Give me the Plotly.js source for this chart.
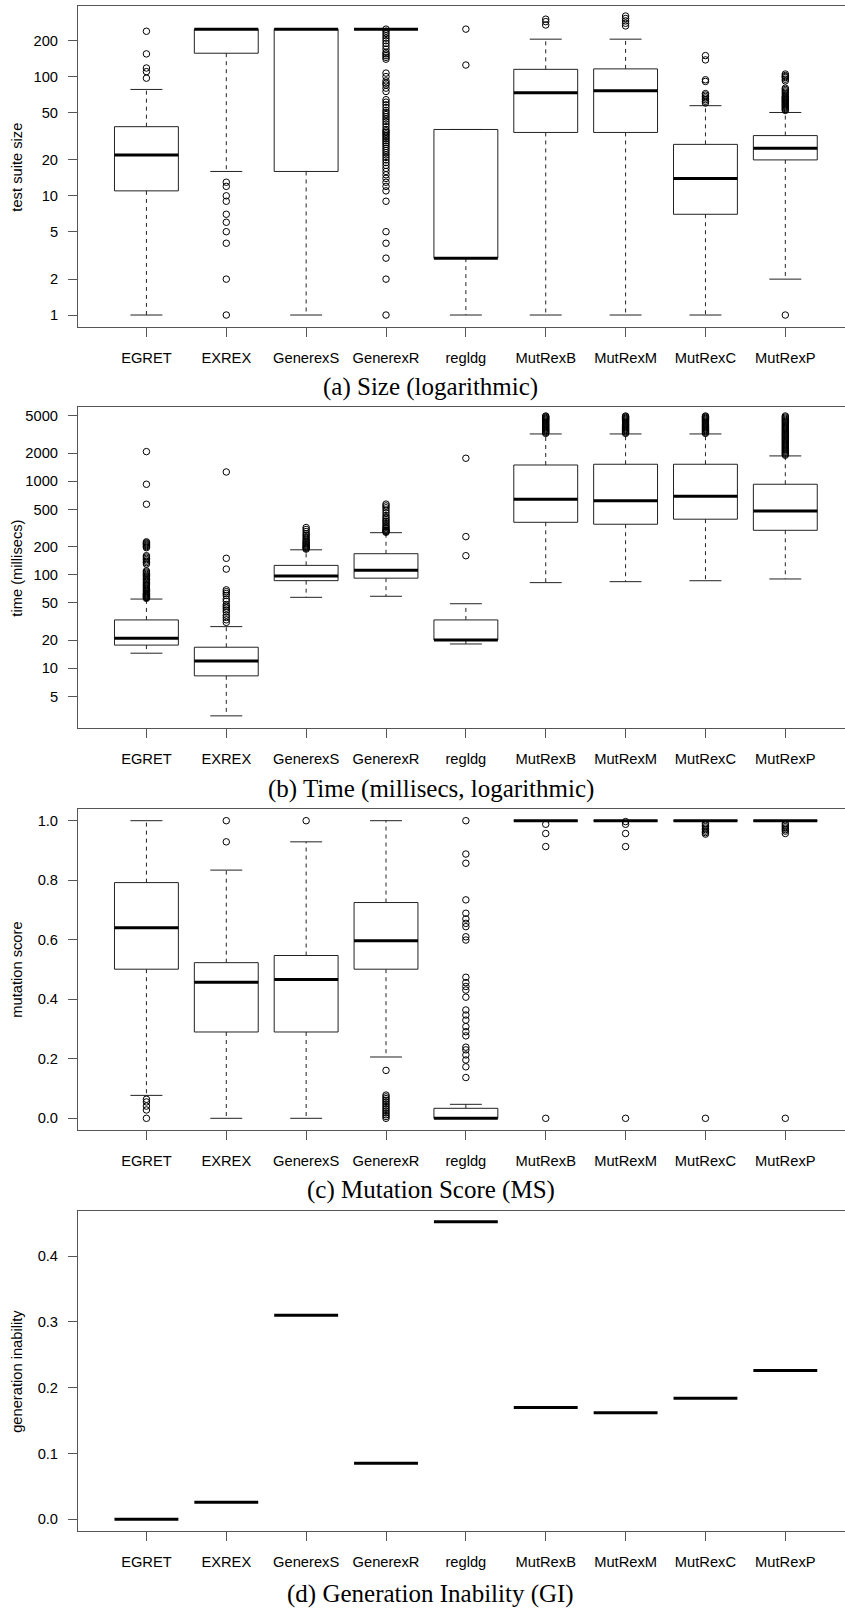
<!DOCTYPE html>
<html><head><meta charset="utf-8">
<script src="https://cdn.plot.ly/plotly-3.0.1.min.js"></script>
<style>html,body{margin:0;padding:0;overflow:hidden;background:#fff}</style>
</head><body><div id="chart" style="width:845px;height:1608px"></div>
<script>
// ---------- DATA ----------
const categories = ['EGRET','EXREX','GenerexS','GenerexR','regldg','MutRexB','MutRexM','MutRexC','MutRexP'];

// (a) test suite size
const sizeLower  = [1, 16, 1, 250, 1, 1, 1, 1, 2];
const sizeQ1     = [11, 157, 16, 250, 3, 34, 34, 7, 20];
const sizeMedian = [22, 250, 250, 250, 3, 73, 76, 14, 25];
const sizeQ3     = [38, 250, 250, 250, 36, 115, 116, 27, 32];
const sizeUpper  = [78, 250, 250, 250, 36, 206, 206, 57, 50];
const sizeOutliers = [
  [97, 110, 118, 155, 240],
  [1, 2, 4, 5, 6, 7, 9, 10, 12, 13],
  [],
  [1, 2, 3, 4, 5, 9, 11, 12, 13, 14, 15, 16, 17, 18, 19, 20, 21, 22, 23, 24, 25, 26, 27, 28, 29, 30, 31, 32, 33, 34, 35, 36, 38, 40, 42, 44, 46, 48, 50, 52, 55, 58, 61, 64, 75, 80, 85, 88, 92, 100, 107, 140, 145, 150, 155, 160, 170, 180, 190, 200, 210, 220, 230, 240, 250],
  [125, 250],
  [271, 289, 303],
  [266, 280, 293, 307, 322],
  [60, 62, 64, 66, 68, 70, 72, 91, 94, 138, 150],
  [1, 52, 53, 54, 55, 56, 57, 58, 59, 60, 61, 62, 63, 64, 65, 66, 67, 68, 70, 72, 74, 76, 78, 80, 92, 95, 98, 100, 102, 105]
];
const sizeTicks = [1, 2, 5, 10, 20, 50, 100, 200];

// (b) time (millisecs)
const timeLower  = [14.5, 3.1, 57.4, 58.9, 18.2, 82.4, 84.4, 86.4, 90.2];
const timeQ1     = [17.7, 8.3, 86.5, 92, 20.1, 364, 347, 393, 299];
const timeMedian = [20.9, 12, 97, 112, 20.1, 641, 620, 692, 481];
const timeQ3     = [32.9, 16.8, 126, 168, 32.9, 1493, 1520, 1520, 929];
const timeUpper  = [55, 27.9, 185, 282, 49, 3206, 3206, 3206, 1867];
const timeOutliers = [
  [56, 57, 58, 59, 60, 61, 62, 63, 64, 66, 68, 70, 72, 74, 76, 78, 80, 83, 86, 89, 92, 95, 98, 101, 104, 107, 110, 130, 135, 140, 145, 150, 155, 160, 195, 200, 205, 210, 215, 220, 225, 568, 929, 2075],
  [31, 33, 35, 37, 40, 42, 44, 46, 48, 52, 55, 60, 63, 66, 69, 115, 150, 1257],
  [188, 192, 196, 200, 205, 210, 215, 220, 228, 235, 245, 255, 265, 275, 290, 305, 320],
  [285, 290, 295, 300, 310, 320, 330, 345, 360, 375, 390, 410, 430, 460, 490, 520, 545, 570],
  [160, 256, 1763],
  [3250, 3330, 3410, 3490, 3570, 3650, 3740, 3830, 3920, 4010, 4100, 4200, 4300, 4400, 4500, 4600, 4700, 4800, 4900, 4990],
  [3250, 3330, 3410, 3490, 3570, 3650, 3740, 3830, 3920, 4010, 4100, 4200, 4300, 4400, 4500, 4600, 4700, 4800, 4900, 4990],
  [3250, 3330, 3410, 3490, 3570, 3650, 3740, 3830, 3920, 4010, 4100, 4200, 4300, 4400, 4500, 4600, 4700, 4800, 4900, 4990],
  [1900, 1950, 2000, 2050, 2100, 2150, 2200, 2260, 2320, 2380, 2440, 2500, 2570, 2640, 2710, 2780, 2850, 2930, 3010, 3090, 3170, 3250, 3340, 3430, 3520, 3610, 3700, 3800, 3900, 4000, 4120, 4240, 4360, 4480, 4600, 4730, 4860, 4990]
];
const timeTicks = [5, 10, 20, 50, 100, 200, 500, 1000, 2000, 5000];

// (c) mutation score
const msLower  = [0.077, 0, 0, 0.206, 0, 1, 1, 1, 1];
const msQ1     = [0.501, 0.290, 0.290, 0.501, 0, 1, 1, 1, 1];
const msMedian = [0.640, 0.457, 0.466, 0.597, 0, 1, 1, 1, 1];
const msQ3     = [0.792, 0.523, 0.547, 0.725, 0.0336, 1, 1, 1, 1];
const msUpper  = [1, 0.834, 0.929, 1, 0.047, 1, 1, 1, 1];
const msOutliers = [
  [0, 0.028, 0.041, 0.055, 0.064],
  [0.929, 1],
  [1],
  [0, 0.006, 0.012, 0.018, 0.024, 0.03, 0.036, 0.042, 0.048, 0.054, 0.06, 0.066, 0.072, 0.078, 0.161],
  [0.137, 0.173, 0.196, 0.213, 0.230, 0.239, 0.277, 0.291, 0.308, 0.330, 0.347, 0.364, 0.407, 0.431, 0.443, 0.456, 0.474, 0.599, 0.610, 0.644, 0.655, 0.670, 0.689, 0.734, 0.857, 0.888, 1],
  [0, 0.913, 0.957, 0.988],
  [0, 0.913, 0.957, 0.988, 0.997],
  [0, 0.955, 0.96, 0.965, 0.97, 0.975, 0.98, 0.985, 0.99],
  [0, 0.957, 0.965, 0.97, 0.975, 0.98, 0.985, 0.99]
];
const msTicks = [0, 0.2, 0.4, 0.6, 0.8, 1.0];
const msTickText = ['0.0', '0.2', '0.4', '0.6', '0.8', '1.0'];

// (d) generation inability
const giValues = [0, 0.026, 0.310, 0.085, 0.452, 0.170, 0.162, 0.184, 0.226];
const giTicks = [0, 0.1, 0.2, 0.3, 0.4];
const giTickText = ['0.0', '0.1', '0.2', '0.3', '0.4'];

// ---------- LAYOUT / DRAWING ----------
const W = 845, H = 1608, L = 78.3;
const PW = W - L;
const SANS = 'Liberation Sans, Arial, sans-serif';
const SERIF = 'Liberation Serif, Times New Roman, serif';

const panels = [
  {top: 6, bottom: 327.3, type: 'log', range: [-0.103, 2.592], tickvals: sizeTicks, ticktext: sizeTicks.map(String),
   ytitle: 'test suite size', caption: '(a) Size (logarithmic)', capY: 387,
   st: {lo: sizeLower, q1: sizeQ1, md: sizeMedian, q3: sizeQ3, hi: sizeUpper, out: sizeOutliers}},
  {top: 407.3, bottom: 728, type: 'log', range: [0.3615, 3.791], tickvals: timeTicks, ticktext: timeTicks.map(String),
   ytitle: 'time (millisecs)', caption: '(b) Time (millisecs, logarithmic)', capY: 789,
   st: {lo: timeLower, q1: timeQ1, md: timeMedian, q3: timeQ3, hi: timeUpper, out: timeOutliers}},
  {top: 809.3, bottom: 1130.3, type: 'linear', range: [-0.0403, 1.0383], tickvals: msTicks, ticktext: msTickText,
   ytitle: 'mutation score', caption: '(c) Mutation Score (MS)', capY: 1190,
   st: {lo: msLower, q1: msQ1, md: msMedian, q3: msQ3, hi: msUpper, out: msOutliers}},
  {top: 1210.7, bottom: 1531, type: 'linear', range: [-0.0178, 0.4689], tickvals: giTicks, ticktext: giTickText,
   ytitle: 'generation inability', caption: '(d) Generation Inability (GI)', capY: 1594,
   st: {lo: giValues, q1: giValues, md: giValues, q3: giValues, hi: giValues, out: categories.map(() => [])}, onlyMedian: true}
];

const traces = [];
const layout = {
  width: W, height: H,
  margin: {l: L, r: 0, t: 0, b: 0, pad: 0},
  paper_bgcolor: '#fff', plot_bgcolor: '#fff',
  showlegend: false,
  font: {family: SANS, size: 14.7, color: '#000'},
  annotations: []
};

const HALF = 0.4, CAP = 0.2;
const xpos = categories.map((c, i) => i + 1);

panels.forEach((p, k) => {
  const n = k + 1;
  const xa = 'x' + (n === 1 ? '' : n), ya = 'y' + (n === 1 ? '' : n);
  const xkey = 'xaxis' + (n === 1 ? '' : n), ykey = 'yaxis' + (n === 1 ? '' : n);
  layout[xkey] = {
    domain: [0, 1], anchor: ya, range: [1 - (146.7 - L) / 79.83, 1 + (W - 146.7) / 79.83],
    tickvals: xpos, ticktext: categories, ticks: 'outside', ticklen: 9, tickwidth: 1, tickcolor: '#555',
    showline: true, mirror: true, linecolor: '#555', linewidth: 1,
    showgrid: false, zeroline: false, ticklabelstandoff: 8,
    tickfont: {family: SANS, size: 14.7, color: '#000'}, fixedrange: true
  };
  layout[ykey] = {
    domain: [1 - p.bottom / H, 1 - p.top / H], anchor: xa, type: p.type, range: p.range,
    tickvals: p.tickvals, ticktext: p.ticktext, ticks: 'outside', ticklen: 9, tickwidth: 1, tickcolor: '#555',
    showline: true, mirror: false, linecolor: '#555', linewidth: 1,
    showgrid: false, zeroline: false, ticklabelstandoff: 7,
    tickfont: {family: SANS, size: 14.7, color: '#000'}, fixedrange: true
  };
  const s = p.st;
  const bx = [], by = [], wx = [], wy = [], cx = [], cy = [], mx = [], my = [], ox = [], oy = [];
  xpos.forEach((x, i) => {
    if (!p.onlyMedian) {
      bx.push(x - HALF, x + HALF, x + HALF, x - HALF, x - HALF, null);
      by.push(s.q1[i], s.q1[i], s.q3[i], s.q3[i], s.q1[i], null);
      wx.push(x, x, null, x, x, null);
      wy.push(s.q3[i], s.hi[i], null, s.q1[i], s.lo[i], null);
      cx.push(x - CAP, x + CAP, null, x - CAP, x + CAP, null);
      cy.push(s.hi[i], s.hi[i], null, s.lo[i], s.lo[i], null);
      s.out[i].forEach(v => { ox.push(x); oy.push(v); });
    }
    mx.push(x - HALF, x + HALF, null);
    my.push(s.md[i], s.md[i], null);
  });
  const base = {type: 'scatter', xaxis: xa, yaxis: ya, hoverinfo: 'skip', cliponaxis: false};
  if (!p.onlyMedian) {
    traces.push(Object.assign({}, base, {x: wx, y: wy, mode: 'lines', line: {color: '#222', width: 1, dash: '4px,4px'}}));
    traces.push(Object.assign({}, base, {x: cx, y: cy, mode: 'lines', line: {color: '#222', width: 1}}));
    traces.push(Object.assign({}, base, {x: bx, y: by, mode: 'lines', line: {color: '#222', width: 1}}));
  }
  traces.push(Object.assign({}, base, {x: mx, y: my, mode: 'lines', line: {color: '#000', width: 3}}));
  if (ox.length) {
    traces.push(Object.assign({}, base, {x: ox, y: oy, mode: 'markers',
      marker: {symbol: 'circle-open', size: 6.5, color: '#000', line: {width: 1, color: '#000'}}}));
  }
  // y-axis title
  layout.annotations.push({
    xref: 'paper', yref: 'paper', x: (17.3 - L) / PW, y: 1 - ((p.top + p.bottom) / 2) / H,
    text: p.ytitle, textangle: -90, showarrow: false, xanchor: 'center', yanchor: 'middle',
    font: {family: SANS, size: 14.7, color: '#000'}
  });
  // caption
  layout.annotations.push({
    xref: 'paper', yref: 'paper', x: (431 - L) / PW, y: 1 - p.capY / H,
    text: p.caption, showarrow: false, xanchor: 'center', yanchor: 'middle',
    font: {family: SERIF, size: 25, color: '#000'}
  });
});

Plotly.newPlot('chart', traces, layout, {staticPlot: true, displayModeBar: false});
</script></body></html>
